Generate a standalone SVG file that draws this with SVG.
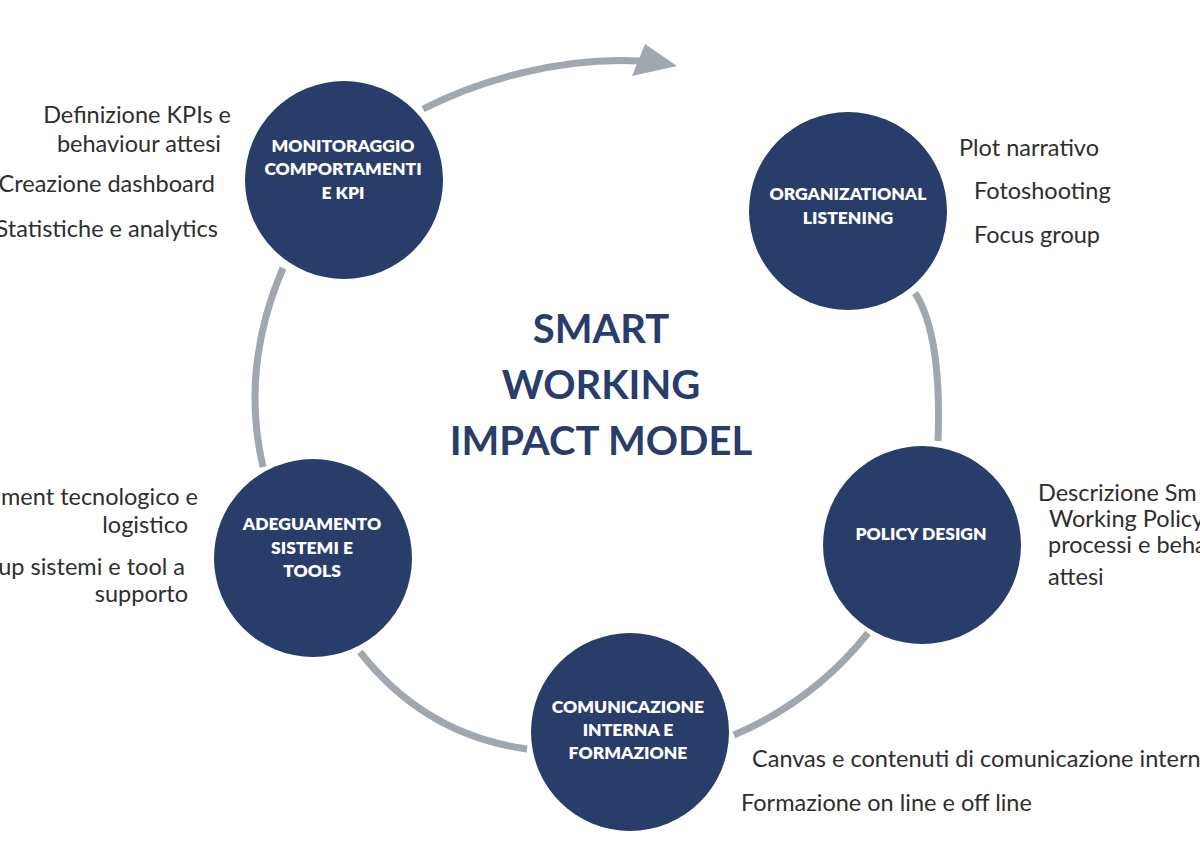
<svg xmlns="http://www.w3.org/2000/svg" width="1200" height="862" viewBox="0 0 1200 862">
<style>
.node{fill:#283D69}
.lbl{font-family:Lato,"Liberation Sans",sans-serif;font-weight:800;font-size:17.5px;fill:#ffffff;text-anchor:middle}
.title{font-family:Lato,"Liberation Sans",sans-serif;font-weight:700;font-size:40px;fill:#283D69;text-anchor:middle}
.note{font-family:Lato,"Liberation Sans",sans-serif;font-weight:400;font-size:23.5px;fill:#2E2E2E}
.end{text-anchor:end}
.conn{fill:none;stroke:#A1A7AE;stroke-width:7;stroke-linecap:butt}
</style>
<rect width="1200" height="862" fill="#ffffff"/>
<g id="connectors">
<path class="conn" d="M423,109 C480,80 560,57 640,61"/>
<polygon points="677,66 645,44 632,76" fill="#A1A7AE"/>
<path class="conn" d="M915,293 Q942,335 938,441"/>
<path class="conn" d="M868,633 Q815,700 734,735"/>
<path class="conn" d="M527,749 Q425,735 360,652"/>
<path class="conn" d="M263,467 Q240,368 283,268"/>
</g>
<g id="title">
<text class="title" x="601" y="343">SMART</text>
<text class="title" x="601" y="399">WORKING</text>
<text class="title" x="601" y="455">IMPACT MODEL</text>
</g>
<g id="node-monitoraggio">
<circle class="node" cx="344" cy="180" r="99"/>
<text class="lbl" x="343" y="152">MONITORAGGIO</text>
<text class="lbl" x="343" y="175">COMPORTAMENTI</text>
<text class="lbl" x="343" y="199">E KPI</text>
<text class="note end" x="231" y="123">Definizione KPIs e</text>
<text class="note end" x="221" y="152">behaviour attesi</text>
<text class="note end" x="215" y="192">Creazione dashboard</text>
<text class="note end" x="218" y="237">Statistiche e analytics</text>
</g>
<g id="node-organizational">
<circle class="node" cx="848" cy="211" r="99"/>
<text class="lbl" x="848" y="200">ORGANIZATIONAL</text>
<text class="lbl" x="848" y="224">LISTENING</text>
<text class="note" x="959" y="156">Plot narrativo</text>
<text class="note" x="974" y="199">Fotoshooting</text>
<text class="note" x="974" y="243">Focus group</text>
</g>
<g id="node-policy">
<circle class="node" cx="922" cy="545" r="99"/>
<text class="lbl" x="921" y="540">POLICY DESIGN</text>
<text class="note" x="1038" y="501">Descrizione Sm</text>
<text class="note" x="1049" y="527">Working Policy</text>
<text class="note" x="1048" y="553">processi e beha</text>
<text class="note" x="1048" y="585">attesi</text>
</g>
<g id="node-comunicazione">
<circle class="node" cx="630" cy="732" r="99"/>
<text class="lbl" x="628" y="713">COMUNICAZIONE</text>
<text class="lbl" x="628" y="736">INTERNA E</text>
<text class="lbl" x="628" y="759">FORMAZIONE</text>
<text class="note" x="752" y="767">Canvas e contenuti di comunicazione intern</text>
<text class="note" x="741" y="811">Formazione on line e off line</text>
</g>
<g id="node-adeguamento">
<circle class="node" cx="313" cy="558" r="99"/>
<text class="lbl" x="312" y="530">ADEGUAMENTO</text>
<text class="lbl" x="312" y="554">SISTEMI E</text>
<text class="lbl" x="312" y="577">TOOLS</text>
<text class="note end" x="198" y="505">ment tecnologico e</text>
<text class="note end" x="188" y="533">logistico</text>
<text class="note end" x="185" y="575">up sistemi e tool a</text>
<text class="note end" x="188" y="602">supporto</text>
</g>
</svg>
